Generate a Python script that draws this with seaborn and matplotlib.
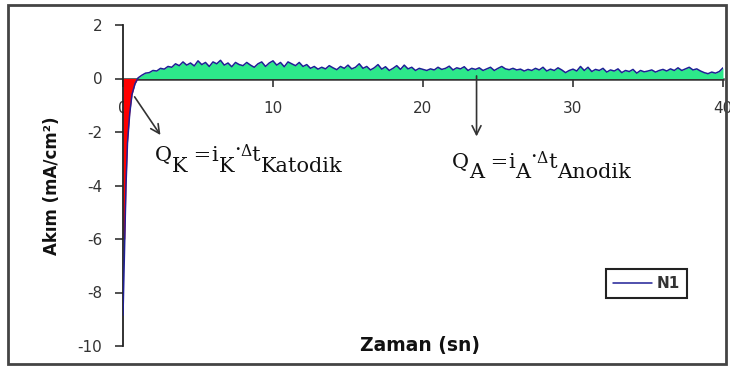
import numpy as np
import pandas as pd
import seaborn as sns
import matplotlib as mpl
import matplotlib.pyplot as plt
from matplotlib.patches import Rectangle

# ---------------- data ----------------
# initial cathodic transient (time in s, current in mA/cm2)
t_head = [0.0, 0.12, 0.2, 0.3, 0.45, 0.6, 0.8]
i_head = [-8.85, -6.0, -4.0, -2.4, -1.3, -0.6, -0.2]

# anodic part, sampled every 0.25 s starting at t = 1.0 s
TAIL_START = 1.0
TAIL_STEP = 0.25
i_tail = [
    0.02, 0.12, 0.20, 0.22, 0.30, 0.28, 0.38, 0.35, 0.45, 0.42,
    0.55, 0.48, 0.62, 0.50, 0.58, 0.47, 0.66, 0.52, 0.60, 0.45,
    0.62, 0.55, 0.68, 0.50, 0.58, 0.44, 0.60, 0.52, 0.48, 0.60,
    0.50, 0.42, 0.55, 0.62, 0.45, 0.58, 0.66, 0.50, 0.60, 0.44,
    0.62, 0.55, 0.48, 0.60, 0.45, 0.52, 0.38, 0.45, 0.35, 0.42,
    0.36, 0.48, 0.40, 0.33, 0.45, 0.38, 0.50, 0.36, 0.42, 0.55,
    0.38, 0.45, 0.32, 0.40, 0.52, 0.35, 0.44, 0.30, 0.38, 0.48,
    0.34, 0.50, 0.36, 0.42, 0.30, 0.38, 0.34, 0.30, 0.36, 0.32,
    0.42, 0.34, 0.38, 0.46, 0.32, 0.40, 0.36, 0.44, 0.30, 0.38,
    0.34, 0.40, 0.30, 0.36, 0.42, 0.30, 0.38, 0.45, 0.36, 0.33,
    0.38, 0.32, 0.35, 0.28, 0.34, 0.30, 0.38, 0.32, 0.42, 0.28,
    0.35, 0.30, 0.40, 0.32, 0.22, 0.30, 0.35, 0.28, 0.45, 0.30,
    0.42, 0.26, 0.34, 0.30, 0.38, 0.24, 0.32, 0.28, 0.36, 0.22,
    0.30, 0.26, 0.34, 0.20, 0.30, 0.25, 0.28, 0.32, 0.24, 0.30,
    0.34, 0.28, 0.36, 0.30, 0.40, 0.30, 0.36, 0.42, 0.32, 0.36,
    0.28, 0.22, 0.18, 0.24, 0.20, 0.26, 0.40,
]

series_name = "N1"
x_label = "Zaman (sn)"
y_label = "Akım (mA/cm²)"
x_ticks = [0, 10, 20, 30, 40]
y_ticks = [-10, -8, -6, -4, -2, 0, 2]

# annotation pieces: (text, vertical shift in pt, relative size)
label_K = [("Q", 0, 1), ("K", -8, 1), (" =", 0, 1), ("i", 0, 1), ("K", -8, 1),
           ("·", 4, 1), ("Δ", 4, 0.75), ("t", 0, 1), ("Katodik", -8, 1)]
label_A = [("Q", 0, 1), ("A", -7, 1), (" =", 0, 1), ("i", 0, 1), ("A", -7, 1),
           ("·", 4, 1), ("Δ", 4, 0.75), ("t", 0, 1), ("Anodik", -7, 1)]

# ---------------- build frame ----------------
t = np.concatenate([t_head, TAIL_START + TAIL_STEP * np.arange(len(i_tail))])
cur = np.concatenate([i_head, i_tail])
df = pd.DataFrame({"t": t, "i": cur})

# ---------------- style ----------------
sns.set_theme(style="white")
plt.rcParams["font.family"] = ["DejaVu Sans"]
plt.rcParams["axes.unicode_minus"] = False

NAVY = "#1f1f96"
GREEN = "#2de88a"
RED = "#ff0000"
RED_FLOOR = -6.0
SERIF = "DejaVu Serif"

fig = plt.figure(figsize=(7.3, 3.67), dpi=100)
fig.patch.set_facecolor("white")
ax = fig.add_axes([123 / 730, 1 - 346 / 367, 600 / 730, 321 / 367])
ax.set_facecolor("white")

# fills
ax.fill_between(df["t"], df["i"], 0, where=df["i"] >= 0, interpolate=True,
                color=GREEN, lw=0, zorder=2)
ax.fill_between(df["t"], np.clip(df["i"], RED_FLOOR, 0), 0, where=df["i"] <= 0,
                interpolate=True, color=RED, lw=0, zorder=2)

# line
sns.lineplot(data=df, x="t", y="i", ax=ax, color=NAVY, lw=1.1,
             label=series_name, sort=False, estimator=None, zorder=3)

ax.set_xlim(0, 40)
ax.set_ylim(-10, 2)
ax.set_xticks(x_ticks)
ax.set_yticks(y_ticks)

for s in ["top", "right"]:
    ax.spines[s].set_visible(False)
ax.spines["bottom"].set_position(("data", 0))
ax.spines["bottom"].set_color("#333333")
ax.spines["bottom"].set_linewidth(1.8)
ax.spines["bottom"].set_zorder(1)
ax.spines["left"].set_color("#222222")
ax.spines["left"].set_linewidth(1.3)

ax.tick_params(axis="x", bottom=True, direction="out", length=6, width=1.2,
               pad=10, labelsize=11, color="#333333", labelcolor="#333333")
ax.tick_params(axis="y", left=True, direction="out", length=6, width=1.2,
               pad=9, labelsize=11, color="#333333", labelcolor="#333333")

ax.set_xlabel(x_label, fontsize=13.5, fontweight="bold", color="#111111")
ax.xaxis.set_label_coords((420 - 123) / 600, 0.0)
ax.xaxis.label.set_va("center")
ax.set_ylabel(y_label, fontsize=12, fontweight="bold", color="#111111")
ax.yaxis.set_label_coords((52 - 123) / 600, 0.5)
ax.yaxis.label.set_va("center")

leg = ax.legend(loc="center", bbox_to_anchor=(646.5 / 730, 1 - 283.5 / 367),
                bbox_transform=fig.transFigure, fancybox=False, framealpha=1,
                edgecolor="#222222", fontsize=11, handlelength=2.6,
                handletextpad=0.3, borderpad=0.45, borderaxespad=0)
leg.get_frame().set_linewidth(1.5)
for txt in leg.get_texts():
    txt.set_fontweight("bold")
    txt.set_color("#333333")

# arrows
ax.annotate("", xy=(2.6, -2.2), xytext=(0.67, -0.6),
            arrowprops=dict(arrowstyle="->", color="#333333", lw=1.2,
                            mutation_scale=16), zorder=4)
ax.annotate("", xy=(23.57, -2.27), xytext=(23.57, 0.2),
            arrowprops=dict(arrowstyle="->", color="#333333", lw=1.2,
                            mutation_scale=16), zorder=4)


def rich(ax, x, y, parts, size):
    s0, dy0, r0 = parts[0]
    prev = ax.text(x, y, s0, fontsize=size * r0, family=SERIF, va="baseline",
                   ha="left", color="#111111", zorder=5)
    prev_dy = dy0
    for s, dy, r in parts[1:]:
        prev = ax.annotate(s, xy=(1, 0), xycoords=prev,
                           xytext=(0, dy - prev_dy), textcoords="offset points",
                           va="bottom", ha="left", fontsize=size * r,
                           family=SERIF, color="#111111", zorder=5)
        prev_dy = dy


rich(ax, 2.13, -3.09, label_K, 15)
rich(ax, 21.93, -3.35, label_A, 15)

# outer chart-area frame
fig.add_artist(Rectangle((8 / 730, 1 - 364 / 367), 718 / 730, 359 / 367,
                         transform=fig.transFigure, fill=False,
                         edgecolor="#444444", lw=2))

fig.savefig("out.png", dpi=100)
